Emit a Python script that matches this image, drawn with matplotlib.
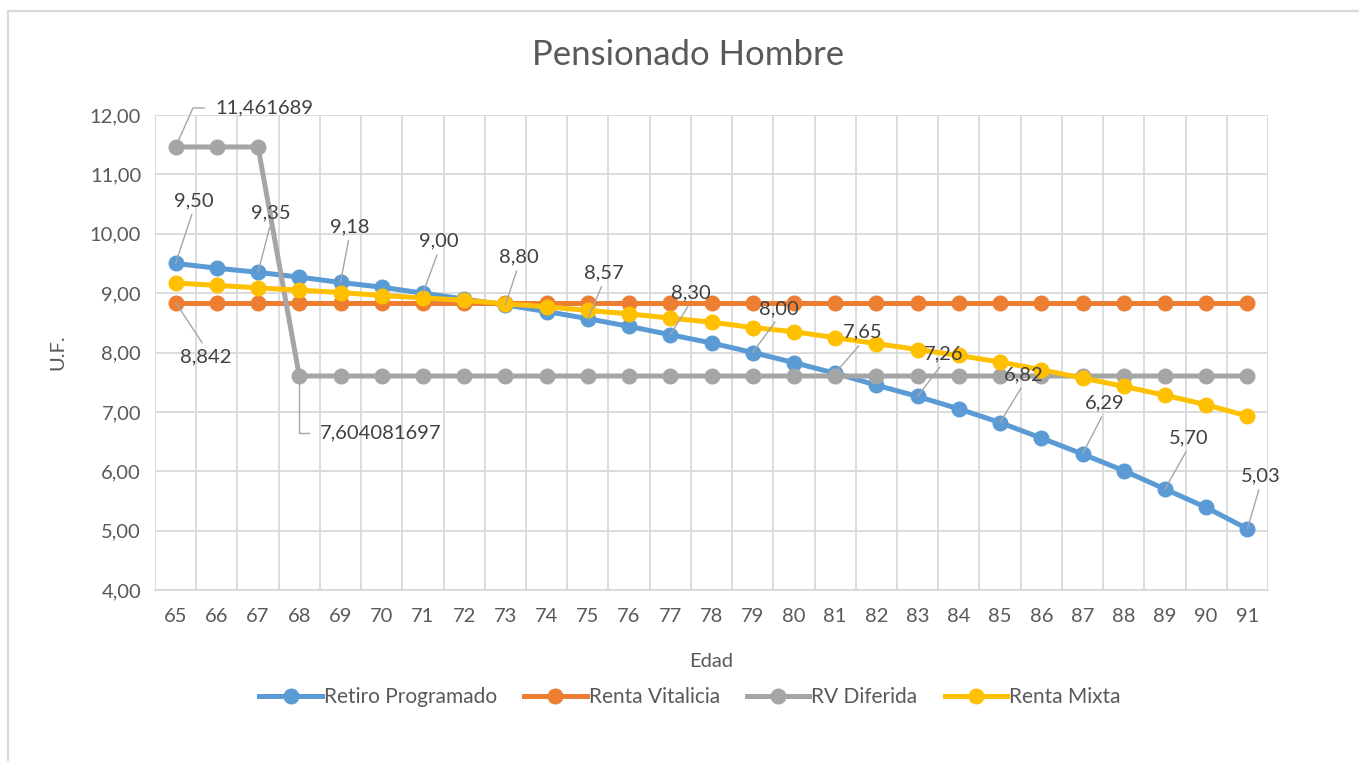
import numpy as np
import matplotlib

matplotlib.use("Agg")
import matplotlib.pyplot as plt
from matplotlib.lines import Line2D

# --- data (U.F. by age) ------------------------------------------------------
edad = list(range(65, 92))
retiro_programado = [9.50, 9.42, 9.35, 9.27, 9.18, 9.10, 9.00, 8.90, 8.80, 8.69,
                     8.57, 8.44, 8.30, 8.16, 8.00, 7.83, 7.65, 7.45, 7.26, 7.05,
                     6.82, 6.56, 6.29, 6.01, 5.70, 5.39, 5.03]
renta_vitalicia = [8.842] * 27
rv_diferida = [11.461689] * 3 + [7.604081697] * 24
renta_mixta = [9.17, 9.13, 9.09, 9.05, 9.01, 8.96, 8.92, 8.88, 8.82, 8.77,
               8.71, 8.65, 8.58, 8.51, 8.42, 8.35, 8.25, 8.15, 8.05, 7.95,
               7.84, 7.71, 7.57, 7.43, 7.28, 7.12, 6.93]

series_names = ["Retiro Programado", "Renta Vitalicia", "RV Diferida", "Renta Mixta"]

# labelled points: (index, text) per series
rp_labels = [(i, f"{retiro_programado[i]:.2f}".replace(".", ",")) for i in range(0, 27, 2)]
rv_label = (0, "8,842")
rvd_labels = [(0, "11,461689"), (3, "7,604081697")]

# --- style -------------------------------------------------------------------
BLUE, ORANGE, GRAY, GOLD = "#5B9BD5", "#ED7D31", "#A5A5A5", "#FFC000"
GRID, TXT, LBL, LEAD = "#D9D9D9", "#595959", "#404040", "#A6A6A6"
FS = 14.5
plt.rcParams.update({"font.family": "Lato"})

W, H = 1359, 761
fig = plt.figure(figsize=(W / 100, H / 100), dpi=100)
fig.patch.set_facecolor("white")

# chart-area border (top and left edges visible)
fig.add_artist(Line2D([8 / W, 8 / W, 1.0], [0, 1 - 11 / H, 1 - 11 / H],
                      transform=fig.transFigure, color=GRID, lw=1.6))

ax = fig.add_axes([155 / W, 1 - 590 / H, (1268 - 155) / W, (590 - 115) / H])
x = np.arange(len(edad))

for vals, c in zip([retiro_programado, renta_vitalicia, rv_diferida, renta_mixta],
                   [BLUE, ORANGE, GRAY, GOLD]):
    ax.plot(x, vals, color=c, lw=3.6, marker="o", ms=10.5, solid_capstyle="round",
            clip_on=False)

ax.set_xlim(-0.5, len(edad) - 0.5)
ax.set_ylim(4, 12)
yt = np.arange(4, 12.01, 1)
ax.set_yticks(yt)
ax.set_yticklabels([f"{v:.2f}".replace(".", ",") for v in yt])
ax.set_xticks(x)
ax.set_xticklabels([str(e) for e in edad])
ax.set_xticks(np.arange(-0.5, len(edad), 1), minor=True)
ax.tick_params(which="both", length=0, labelsize=FS, colors=TXT, pad=13)
ax.tick_params(axis="y", pad=10)
ax.grid(True, axis="y", which="major", color=GRID, lw=1.3)
ax.grid(True, axis="x", which="minor", color=GRID, lw=1.3)
ax.set_axisbelow(True)
for s in ["top", "right", "left"]:
    ax.spines[s].set_visible(False)
ax.spines["bottom"].set_color(GRID)
ax.spines["bottom"].set_linewidth(1.3)

ax.set_xlabel("Edad", fontsize=FS, color=TXT, labelpad=20)
ax.set_ylabel("U.F.", fontsize=FS, color=TXT, labelpad=17)
fig.text(688 / W, 1 - 55 / H, "Pensionado Hombre", ha="center", va="center",
         fontsize=25, color=TXT)

# --- data labels with leader lines ----------------------------------------------
rp_off = [(18, 63), (13, 59), (9, 56), (16, 52), (13, 48), (16, 46), (21, 42),
          (26, 44), (28, 41), (26, 43), (24, 48), (22, 51), (24, 51), (13, 53)]
lab_kw = dict(textcoords="offset pixels", fontsize=FS, color=LBL,
              ha="center", va="center")
for (i, t), (dx, dy) in zip(rp_labels, rp_off):
    ax.annotate(t, xy=(i, retiro_programado[i]), xytext=(dx, dy),
                arrowprops=dict(arrowstyle="-", color=LEAD, lw=1.0, shrinkA=2,
                                shrinkB=0, relpos=(0.5, 0.0)), **lab_kw)

i, t = rv_label
ax.annotate(t, xy=(i, renta_vitalicia[i]), xytext=(30, -54),
            arrowprops=dict(arrowstyle="-", color=LEAD, lw=1.0, shrinkA=2,
                            shrinkB=0, relpos=(0.5, 1.0)), **lab_kw)

i, t = rvd_labels[0]
ax.annotate(t, xy=(i, rv_diferida[i]), xytext=(40, 39),
            textcoords="offset pixels", fontsize=FS, color=LBL,
            ha="left", va="center",
            arrowprops=dict(arrowstyle="-", color=LEAD, lw=1.0, shrinkA=6,
                            shrinkB=0, relpos=(0.0, 0.5),
                            connectionstyle="angle,angleA=0,angleB=66,rad=0"))
i, t = rvd_labels[1]
ax.annotate(t, xy=(i, rv_diferida[i]), xytext=(21, -57),
            textcoords="offset pixels", fontsize=FS, color=LBL,
            ha="left", va="center",
            arrowprops=dict(arrowstyle="-", color=LEAD, lw=1.0, shrinkA=6,
                            shrinkB=0, relpos=(0.0, 0.5),
                            connectionstyle="angle,angleA=0,angleB=90,rad=0"))

# --- legend ---------------------------------------------------------------------
handles = [Line2D([], [], color=c, lw=3.6, marker="o", ms=10.5)
           for c in [BLUE, ORANGE, GRAY, GOLD]]
fig.legend(handles, series_names, loc="center", ncol=4, frameon=False,
           bbox_to_anchor=(690 / W, 1 - 697 / H), fontsize=15,
           handlelength=3.0, handletextpad=0.1, columnspacing=1.3,
           labelcolor=TXT)

fig.savefig("out.png", dpi=100)
